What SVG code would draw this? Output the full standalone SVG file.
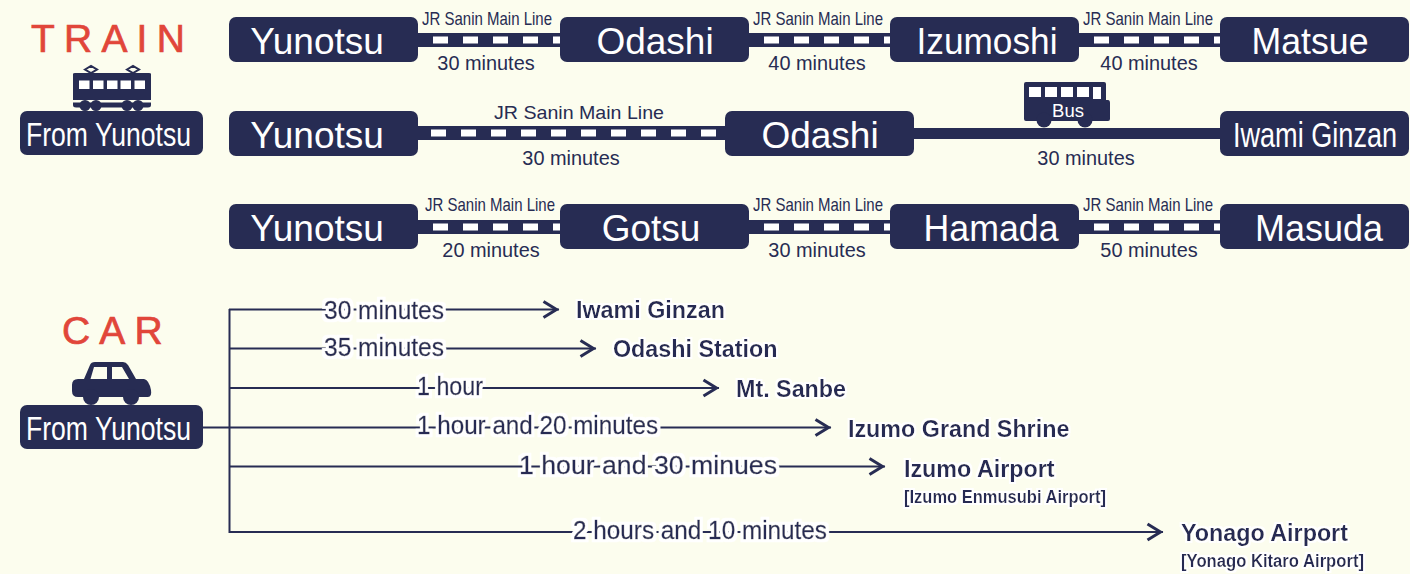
<svg xmlns="http://www.w3.org/2000/svg" width="1410" height="574" viewBox="0 0 1410 574">
<style>
text{font-family:"Liberation Sans",Arial,sans-serif;fill:#272c53}
.box{fill:#272c53}
.nt{fill:#fff;font-size:37px;text-anchor:middle}
.from{fill:#fff;font-size:33px;text-anchor:middle}
.head{fill:#e1463a;stroke:#e1463a;stroke-width:.7px;font-size:39px;letter-spacing:9.2px}
.rail{stroke:#272c53;stroke-width:14;fill:none}
.dash{stroke:#fff;stroke-width:7;stroke-dasharray:15 15;fill:none}
.road{stroke:#272c53;stroke-width:11;fill:none}
.jr{font-size:19px;text-anchor:middle}
.min{font-size:19.9px;text-anchor:middle}
.arr{stroke:#272c53;stroke-width:2;fill:none;marker-end:url(#chev)}
.lab{font-size:25px;stroke:#272c53;stroke-width:.4px;filter:url(#halo)}
.dest{font-size:23.3px;font-weight:bold;filter:url(#halo2)}
.sub{font-size:18px;font-weight:bold;filter:url(#halo2)}
</style>
<defs>
<marker id="chev" markerUnits="userSpaceOnUse" markerWidth="20" markerHeight="22" refX="17.5" refY="10" orient="auto"><path d="M2 2L15 10L2 18" fill="none" stroke="#272c53" stroke-width="3"/></marker>
<filter id="halo" x="-10%" y="-30%" width="120%" height="160%"><feMorphology in="SourceAlpha" operator="dilate" radius="3" result="d"/><feFlood flood-color="#fff"/><feComposite in2="d" operator="in"/><feGaussianBlur stdDeviation=".3"/><feMerge><feMergeNode/><feMergeNode in="SourceGraphic"/></feMerge></filter>
<filter id="halo2" x="-10%" y="-30%" width="120%" height="160%"><feMorphology in="SourceAlpha" operator="dilate" radius="1.500" result="d"/><feFlood flood-color="#fff"/><feComposite in2="d" operator="in"/><feGaussianBlur stdDeviation=".4"/><feMerge><feMergeNode/><feMergeNode in="SourceGraphic"/></feMerge></filter>
</defs>
<rect width="1410" height="574" fill="#fcfdee"/>
<g id="connectors">
<path class="rail" d="M418 40H560M749 40H890M1079 40H1220"/>
<path class="dash" d="M433 40H560M764 40H890M1094 40H1220"/>
<path class="rail" d="M418 133H725"/>
<path class="dash" d="M431 133H725"/>
<path class="road" d="M914 133.500H1220"/>
<path class="rail" d="M418 227H560M749 227H890M1079 227H1220"/>
<path class="dash" d="M433 227H560M764 227H890M1094 227H1220"/>
<path d="M203 427.500H229.500M229.500 309V533" stroke="#272c53" stroke-width="2" fill="none"/>
<path class="arr" d="M229 309.500H559"/>
<path class="arr" d="M229 348.500H596"/>
<path class="arr" d="M229 388H719"/>
<path class="arr" d="M229 427.500H831"/>
<path class="arr" d="M229 466.500H885"/>
<path class="arr" d="M229 532H1163"/>
</g>
<g id="line-labels">
<text class="jr" x="487" y="25" textLength="130" lengthAdjust="spacingAndGlyphs">JR Sanin Main Line</text>
<text class="min" x="486" y="70">30 minutes</text>
<text class="jr" x="818" y="25" textLength="130" lengthAdjust="spacingAndGlyphs">JR Sanin Main Line</text>
<text class="min" x="817" y="70">40 minutes</text>
<text class="jr" x="1148" y="25" textLength="130" lengthAdjust="spacingAndGlyphs">JR Sanin Main Line</text>
<text class="min" x="1149" y="70">40 minutes</text>
<text class="jr" x="579" y="119" textLength="170" lengthAdjust="spacingAndGlyphs">JR Sanin Main Line</text>
<text class="min" x="571" y="165">30 minutes</text>
<text class="min" x="1086" y="165">30 minutes</text>
<text class="jr" x="490" y="211" textLength="130" lengthAdjust="spacingAndGlyphs">JR Sanin Main Line</text>
<text class="min" x="491" y="257">20 minutes</text>
<text class="jr" x="818" y="211" textLength="130" lengthAdjust="spacingAndGlyphs">JR Sanin Main Line</text>
<text class="min" x="817" y="257">30 minutes</text>
<text class="jr" x="1148" y="211" textLength="130" lengthAdjust="spacingAndGlyphs">JR Sanin Main Line</text>
<text class="min" x="1149" y="257">50 minutes</text>
</g>
<g id="train-heading"><text class="head" x="31" y="52">TRAIN</text></g>
<g id="train-icon" fill="#272c53">
<path d="M73 74Q73 73 75 73H149Q151 73 151 74V100H73Z"/>
<path d="M73 102.500H151V105Q151 107.500 148 107.500H76Q73 107.500 73 105Z"/>
<circle cx="85" cy="105.500" r="5.500"/><circle cx="96" cy="105.500" r="5.500"/><circle cx="127" cy="105.500" r="5.500"/><circle cx="138" cy="105.500" r="5.500"/>
<path d="M91 73V70M132.500 73V70" stroke="#272c53" stroke-width="2"/>
<path d="M85 69.500L91 66L97 69.500L91 73ZM127 69.500L133 66L139 69.500L133 73Z" fill="#fcfdee" stroke="#272c53" stroke-width="2"/>
<g fill="#fff"><rect x="79" y="80.500" width="10.500" height="8.500"/><rect x="93" y="80.500" width="10.500" height="8.500"/><rect x="107" y="80.500" width="10.500" height="8.500"/><rect x="120.500" y="80.500" width="10.500" height="8.500"/><rect x="134.500" y="80.500" width="10.500" height="8.500"/></g>
</g>
<g id="train-from"><rect class="box" x="20" y="111" width="183" height="44" rx="7"/><text class="from" x="108.500" y="146" textLength="165" lengthAdjust="spacingAndGlyphs">From Yunotsu</text></g>
<g id="n1-yunotsu"><rect class="box" x="229" y="17" width="189" height="45" rx="7"/><text class="nt" x="317" y="54">Yunotsu</text></g>
<g id="n1-odashi"><rect class="box" x="560" y="17" width="189" height="45" rx="7"/><text class="nt" x="655" y="54">Odashi</text></g>
<g id="n1-izumoshi"><rect class="box" x="890" y="17" width="189" height="45" rx="7"/><text class="nt" x="987" y="54" textLength="141" lengthAdjust="spacingAndGlyphs">Izumoshi</text></g>
<g id="n1-matsue"><rect class="box" x="1220" y="17" width="189" height="45" rx="7"/><text class="nt" x="1310" y="54" textLength="117" lengthAdjust="spacingAndGlyphs">Matsue</text></g>
<g id="n2-yunotsu"><rect class="box" x="229" y="111" width="189" height="45" rx="7"/><text class="nt" x="317" y="148">Yunotsu</text></g>
<g id="n2-odashi"><rect class="box" x="725" y="111" width="189" height="45" rx="7"/><text class="nt" x="820" y="148">Odashi</text></g>
<g id="n2-iwami"><rect class="box" x="1220" y="111" width="189" height="45" rx="7"/><text class="nt" style="font-size:35px" transform="translate(1315 147) scale(.775 1)">Iwami Ginzan</text></g>
<g id="bus-icon" fill="#272c53">
<path d="M1024 84Q1024 82 1026 82H1104Q1106 82 1106 84V100H1108Q1110 100 1110 103V119Q1110 121 1108 121H1026Q1024 121 1024 119Z"/>
<circle cx="1044" cy="120" r="7.500"/><circle cx="1085" cy="120" r="7.500"/>
<g fill="#fff"><rect x="1029" y="87" width="12" height="10"/><rect x="1045" y="87" width="12" height="10"/><rect x="1061" y="87" width="12" height="10"/><rect x="1077" y="87" width="12" height="10"/><rect x="1093" y="87" width="8" height="12"/></g>
<text x="1068" y="117" text-anchor="middle" font-size="18.500" style="fill:#fff">Bus</text>
</g>
<g id="n3-yunotsu"><rect class="box" x="229" y="204" width="189" height="45" rx="7"/><text class="nt" x="317" y="241">Yunotsu</text></g>
<g id="n3-gotsu"><rect class="box" x="560" y="204" width="189" height="45" rx="7"/><text class="nt" x="651" y="241">Gotsu</text></g>
<g id="n3-hamada"><rect class="box" x="890" y="204" width="189" height="45" rx="7"/><text class="nt" x="991" y="241" textLength="135" lengthAdjust="spacingAndGlyphs">Hamada</text></g>
<g id="n3-masuda"><rect class="box" x="1220" y="204" width="189" height="45" rx="7"/><text class="nt" x="1319" y="241" textLength="128" lengthAdjust="spacingAndGlyphs">Masuda</text></g>
<g id="car-heading"><text class="head" x="62" y="344">CAR</text></g>
<g id="car-icon" fill="#272c53">
<path d="M84 379L90 365Q91 362 95 362H123Q126 362 128 365L136 379H144Q149 380 151 390Q152 397 148 397H78Q72 397 72 391V385Q72 379 78 379Z"/>
<circle cx="91" cy="397" r="8"/><circle cx="131" cy="397" r="8"/>
<path d="M90.500 379L94 367H107V379ZM112 367H122L129 379H112Z" fill="#fcfdee"/>
</g>
<g id="car-from"><rect class="box" x="20" y="405" width="183" height="44" rx="7"/><text class="from" x="108.500" y="440" textLength="165" lengthAdjust="spacingAndGlyphs">From Yunotsu</text></g>
<g id="car-times">
<text class="lab" x="324" y="319" textLength="120" lengthAdjust="spacingAndGlyphs">30 minutes</text>
<text class="lab" x="324" y="356" textLength="120" lengthAdjust="spacingAndGlyphs">35 minutes</text>
<text class="lab" x="417" y="395" textLength="66" lengthAdjust="spacingAndGlyphs">1 hour</text>
<text class="lab" x="417" y="434" textLength="241" lengthAdjust="spacingAndGlyphs">1 hour and 20 minutes</text>
<text class="lab" x="519" y="474" textLength="258" lengthAdjust="spacingAndGlyphs">1 hour and 30 minues</text>
<text class="lab" x="573" y="539" textLength="254" lengthAdjust="spacingAndGlyphs">2 hours and 10 minutes</text>
</g>
<g id="d-iwami"><text class="dest" x="576" y="318">Iwami Ginzan</text></g>
<g id="d-odashi"><text class="dest" x="613" y="357">Odashi Station</text></g>
<g id="d-sanbe"><text class="dest" x="736" y="397">Mt. Sanbe</text></g>
<g id="d-shrine"><text class="dest" x="848" y="437">Izumo Grand Shrine</text></g>
<g id="d-izumo-air"><text class="dest" x="904" y="477">Izumo Airport</text><text class="sub" x="904" y="503" textLength="202" lengthAdjust="spacingAndGlyphs">[Izumo Enmusubi Airport]</text></g>
<g id="d-yonago"><text class="dest" x="1181" y="541">Yonago Airport</text><text class="sub" x="1181" y="567" textLength="183" lengthAdjust="spacingAndGlyphs">[Yonago Kitaro Airport]</text></g>
</svg>
